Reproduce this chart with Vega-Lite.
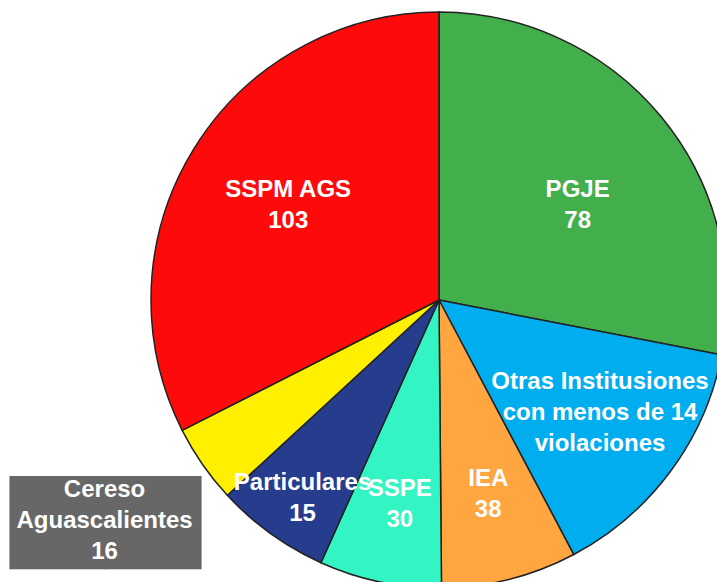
{
  "$schema": "https://vega.github.io/schema/vega-lite/v6.json",
  "width": 878,
  "height": 600,
  "autosize": {"type": "none"},
  "padding": 0,
  "background": "white",
  "config": {"view": {"stroke": null}},
  "data": {
    "values": [
      {"k": 1, "name": "PGJE", "n": 78, "share": 101.0, "label": "PGJE\n78"},
      {"k": 2, "name": "Otras Institusiones con menos de 14 violaciones", "n": null, "share": 51.1, "label": "Otras Institusiones\ncon menos de 14\nviolaciones"},
      {"k": 3, "name": "IEA", "n": 38, "share": 27.4, "label": "IEA\n38"},
      {"k": 4, "name": "SSPE", "n": 30, "share": 24.7, "label": "SSPE\n30"},
      {"k": 5, "name": "Particulares", "n": 15, "share": 23.1, "label": "Particulares\n15"},
      {"k": 6, "name": "Cereso Aguascalientes", "n": 16, "share": 15.8, "label": "Cereso\nAguascalientes\n16"},
      {"k": 7, "name": "SSPM AGS", "n": 103, "share": 116.9, "label": "SSPM AGS\n103"}
    ]
  },
  "encoding": {
    "theta": {"field": "share", "type": "quantitative", "stack": true},
    "order": {"field": "k", "type": "quantitative"}
  },
  "layer": [
    {
      "mark": {"type": "arc", "outerRadius": 288, "stroke": "#222222", "strokeWidth": 1.5},
      "encoding": {
        "color": {
          "field": "name",
          "type": "nominal",
          "legend": null,
          "scale": {
            "domain": ["PGJE", "Otras Institusiones con menos de 14 violaciones", "IEA", "SSPE", "Particulares", "Cereso Aguascalientes", "SSPM AGS"],
            "range": ["#43AE4C", "#00AEEF", "#FFA640", "#33F5C4", "#263C8C", "#FFF000", "#FF0A0A"]
          }
        }
      }
    },
    {
      "mark": {"type": "text", "radius": 401.2, "dx": -4, "dy": 1, "font": "DejaVu Sans Mono", "fontSize": 157, "align": "center", "baseline": "alphabetic", "fill": "#676767"},
      "encoding": {
        "text": {"condition": {"test": "datum.k === 6", "value": "▄▄"}, "value": ""}
      }
    },
    {
      "mark": {"type": "text", "radius": 168, "dx": 9, "dy": -3.5, "lineBreak": "\n", "lineHeight": 31, "font": "Liberation Sans, Arial, sans-serif", "fontWeight": "bold", "fontSize": 24, "align": "center", "baseline": "middle", "fill": "white"},
      "encoding": {"text": {"condition": {"test": "datum.k === 1", "field": "label"}, "value": ""}}
    },
    {
      "mark": {"type": "text", "radius": 196.7, "dx": 3, "dy": -35, "lineBreak": "\n", "lineHeight": 31, "font": "Liberation Sans, Arial, sans-serif", "fontWeight": "bold", "fontSize": 24, "align": "center", "baseline": "middle", "fill": "white"},
      "encoding": {"text": {"condition": {"test": "datum.k === 2", "field": "label"}, "value": ""}}
    },
    {
      "mark": {"type": "text", "radius": 200.6, "dx": 0, "dy": -15.5, "lineBreak": "\n", "lineHeight": 31, "font": "Liberation Sans, Arial, sans-serif", "fontWeight": "bold", "fontSize": 24, "align": "center", "baseline": "middle", "fill": "white"},
      "encoding": {"text": {"condition": {"test": "datum.k === 3", "field": "label"}, "value": ""}}
    },
    {
      "mark": {"type": "text", "radius": 241.3, "dx": 4.5, "dy": -12.5, "lineBreak": "\n", "lineHeight": 31, "font": "Liberation Sans, Arial, sans-serif", "fontWeight": "bold", "fontSize": 24, "align": "center", "baseline": "middle", "fill": "white"},
      "encoding": {"text": {"condition": {"test": "datum.k === 5", "field": "label"}, "value": ""}}
    },
    {
      "mark": {"type": "text", "radius": 207.7, "dx": 3.5, "dy": -14.5, "lineBreak": "\n", "lineHeight": 31, "font": "Liberation Sans, Arial, sans-serif", "fontWeight": "bold", "fontSize": 24, "align": "center", "baseline": "middle", "fill": "white"},
      "encoding": {"text": {"condition": {"test": "datum.k === 4", "field": "label"}, "value": ""}}
    },
    {
      "mark": {"type": "text", "radius": 401.2, "dx": -5, "dy": -38.5, "lineBreak": "\n", "lineHeight": 31, "font": "Liberation Sans, Arial, sans-serif", "fontWeight": "bold", "fontSize": 24, "align": "center", "baseline": "middle", "fill": "white"},
      "encoding": {"text": {"condition": {"test": "datum.k === 6", "field": "label"}, "value": ""}}
    },
    {
      "mark": {"type": "text", "radius": 178.1, "dx": 1, "dy": -16.5, "lineBreak": "\n", "lineHeight": 31, "font": "Liberation Sans, Arial, sans-serif", "fontWeight": "bold", "fontSize": 24, "align": "center", "baseline": "middle", "fill": "white"},
      "encoding": {"text": {"condition": {"test": "datum.k === 7", "field": "label"}, "value": ""}}
    }
  ]
}
